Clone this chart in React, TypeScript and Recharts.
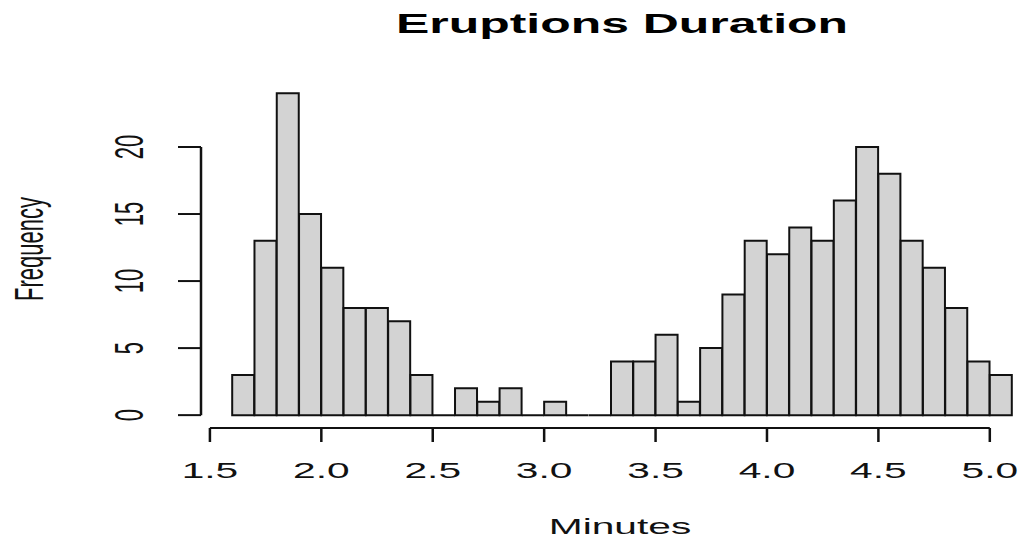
import React from 'react';
import { ComposedChart, Bar, XAxis, YAxis, ReferenceLine } from 'recharts';

// Histogram of eruption durations, 0.1-minute bins from 1.6 to 5.1
const binStarts = [
  1.6, 1.7, 1.8, 1.9, 2.0, 2.1, 2.2, 2.3, 2.4, 2.5, 2.6, 2.7, 2.8, 2.9, 3.0, 3.1, 3.2, 3.3,
  3.4, 3.5, 3.6, 3.7, 3.8, 3.9, 4.0, 4.1, 4.2, 4.3, 4.4, 4.5, 4.6, 4.7, 4.8, 4.9, 5.0,
];
const counts = [
  3, 13, 24, 15, 11, 8, 8, 7, 3, 0, 2, 1, 2, 0, 1, 0, 0, 4,
  4, 6, 1, 5, 9, 13, 12, 14, 13, 16, 20, 18, 13, 11, 8, 4, 3,
];
const binWidth = 0.1;
const xTicks = [1.5, 2.0, 2.5, 3.0, 3.5, 4.0, 4.5, 5.0];
const yTicks = [0, 5, 10, 15, 20];

const title = 'Eruptions Duration';
const xTitle = 'Minutes';
const yTitle = 'Frequency';

const data = binStarts.map((start, i) => ({
  mid: Number((start + binWidth / 2).toFixed(2)),
  count: counts[i],
}));

// axis limits padded by 4% like base R graphics
const maxCount = Math.max(...counts);
const yMin = -0.04 * maxCount;
const yMax = maxCount * 1.04;
const xSpan = binStarts[binStarts.length - 1] + binWidth - binStarts[0];
const xMin = binStarts[0] - 0.04 * xSpan;
const xMax = 5.14;

const FONT = '"Liberation Sans", Arial, Helvetica, sans-serif';
const STRETCH = 1.85;
const INK = '#111';

const HistBar = (props: any) => {
  const { x, y, width, height } = props;
  if (x == null || y == null) return null;
  const h = height || 0;
  return (
    <path
      d={`M${x},${y + h}V${y}H${x + width}V${y + h}Z`}
      fill="#D3D3D3"
      stroke={INK}
      strokeWidth={2}
    />
  );
};

const XTick = (props: any) => {
  const { x, y, payload } = props;
  return (
    <g transform={`translate(${x},${y + 36}) scale(${STRETCH},1)`}>
      <text x={0} y={0} textAnchor="middle" fontFamily={FONT} fontSize={22} fill={INK}>
        {payload.value.toFixed(1)}
      </text>
    </g>
  );
};

const YTick = (props: any) => {
  const { x, y, payload } = props;
  return (
    <g transform={`translate(${x - 35},${y}) scale(${STRETCH},1) rotate(-90)`}>
      <text x={0} y={0} textAnchor="middle" fontFamily={FONT} fontSize={22} fill={INK}>
        {payload.value}
      </text>
    </g>
  );
};

export default function App() {
  return (
    <div style={{ position: 'absolute', left: 0, top: 0, width: 1021, height: 543, background: '#fff' }}>
      <ComposedChart
        width={1021}
        height={543}
        data={data}
        margin={{ top: 80.5, right: 0, bottom: 0, left: 0 }}
        barCategoryGap={0}
        barGap={0}
      >
        <XAxis
          dataKey="mid"
          type="number"
          domain={[xMin, xMax]}
          ticks={xTicks}
          interval={0}
          allowDataOverflow
          axisLine={false}
          tickSize={14}
          tickMargin={0}
          tickLine={{ stroke: INK, strokeWidth: 2.5 }}
          tick={<XTick />}
          height={115}
        />
        <YAxis
          type="number"
          domain={[yMin, yMax]}
          ticks={yTicks}
          interval={0}
          allowDataOverflow
          axisLine={false}
          tickSize={23}
          tickMargin={0}
          tickLine={{ stroke: INK, strokeWidth: 2 }}
          tick={<YTick />}
          width={201}
        />
        <Bar dataKey="count" isAnimationActive={false} shape={HistBar} />
        <ReferenceLine
          segment={[
            { x: xTicks[0], y: yMin },
            { x: xTicks[xTicks.length - 1], y: yMin },
          ]}
          stroke={INK}
          strokeWidth={2}
          ifOverflow="visible"
        />
        <ReferenceLine
          segment={[
            { x: xMin, y: yTicks[0] },
            { x: xMin, y: yTicks[yTicks.length - 1] },
          ]}
          stroke={INK}
          strokeWidth={2.5}
          ifOverflow="visible"
        />
      </ComposedChart>
      <svg
        width={1021}
        height={543}
        style={{ position: 'absolute', left: 0, top: 0, pointerEvents: 'none' }}
      >
        <g transform={`translate(622,33) scale(${STRETCH},1)`}>
          <text textAnchor="middle" fontFamily={FONT} fontSize={27} fontWeight="bold" fill="#000">
            {title}
          </text>
        </g>
        <g transform={`translate(620,534) scale(${STRETCH},1)`}>
          <text textAnchor="middle" fontFamily={FONT} fontSize={22} fill={INK}>
            {xTitle}
          </text>
        </g>
        <g transform={`translate(43,249) scale(${STRETCH},1) rotate(-90)`}>
          <text textAnchor="middle" fontFamily={FONT} fontSize={22} fill={INK}>
            {yTitle}
          </text>
        </g>
      </svg>
    </div>
  );
}
